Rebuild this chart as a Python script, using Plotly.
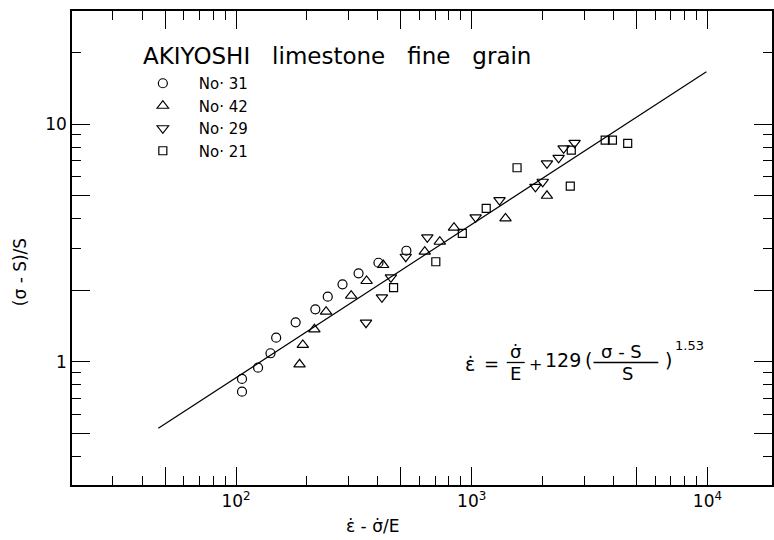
import plotly.graph_objects as go

# Creep data for AKIYOSHI limestone (fine grain), strain rate vs normalised stress
x31 = [106, 106, 124, 140, 148, 179, 217, 245, 283, 331, 402, 528]
y31 = [0.846, 0.748, 0.944, 1.085, 1.262, 1.465, 1.661, 1.877, 2.117, 2.354, 2.609, 2.931]

x42 = [186, 192, 215, 241, 308, 358, 421, 632, 732, 841, 1391, 2085]
y42 = [0.975, 1.176, 1.369, 1.623, 1.895, 2.186, 2.552, 2.903, 3.198, 3.663, 4.011, 4.993]

x29 = [356, 416, 454, 525, 648, 1039, 1312, 1863, 2000, 2085, 2337, 2454, 2732]
y29 = [1.459, 1.866, 2.265, 2.765, 3.337, 4.05, 4.789, 5.447, 5.718, 6.834, 7.215, 7.903, 8.343]

x21 = [466, 704, 912, 1152, 1557, 2619, 2645, 3683, 3954, 4589]
y21 = [2.048, 2.634, 3.469, 4.42, 6.549, 5.485, 7.773, 8.563, 8.563, 8.294]

# fitted relation end points
fit_x = [46.8, 9900]
fit_y = [0.525, 16.6]

series_names = ["No· 31", "No· 42", "No· 29", "No· 21"]

# labelled decades, unlabelled long ticks, short ticks
x_label_vals = [100, 1000, 10000]
x_label_text = ["10<sup>2</sup>", "10<sup>3</sup>", "10<sup>4</sup>"]
x_long = [50, 500, 5000]
x_short = [20, 30, 40, 60, 70, 80, 90, 200, 300, 400, 600, 700, 800, 900,
           2000, 3000, 4000, 6000, 7000, 8000, 9000]
y_label_vals = [1, 10]
y_label_text = ["1", "10"]
y_long = [0.5, 2, 5]
y_short = [0.4, 0.6, 0.7, 0.8, 0.9, 3, 4, 6, 7, 8, 9, 20]

X_RANGE = [1.304, 4.274]
Y_RANGE = [-0.519, 1.476]

FONT = "DejaVu Sans"
INK = "black"

# plot-area geometry (pixels) used to place free text
L, R, T, B = 72, 774, 11, 485


def px(x):
    return (x - L) / (R - L)


def py(y):
    return (B - y) / (B - T)


fig = go.Figure()

fig.add_trace(go.Scatter(x=fit_x, y=fit_y, mode="lines",
                         line=dict(color=INK, width=1.2), showlegend=False,
                         hoverinfo="skip"))

styles = [
    (x31, y31, "circle-open", 9),
    (x42, y42, "triangle-up-open", 10),
    (x29, y29, "triangle-down-open", 10),
    (x21, y21, "square-open", 8),
]
for (xs, ys, sym, size), name in zip(styles, series_names):
    fig.add_trace(go.Scatter(
        x=xs, y=ys, mode="markers", name=name,
        marker=dict(symbol=sym, size=size, color=INK, line=dict(color=INK, width=1.2)),
    ))

# empty traces that bring the extra tick axes into existence
for k in (2, 3):
    fig.add_trace(go.Scatter(x=[], y=[], xaxis=f"x{k}", yaxis=f"y{k}",
                             showlegend=False, hoverinfo="skip"))

annotations = []


def text(x, y, s, size, xanchor="center", yanchor="middle", angle=0):
    annotations.append(dict(
        x=px(x), y=py(y), xref="paper", yref="paper", text=s, showarrow=False,
        xanchor=xanchor, yanchor=yanchor, textangle=angle,
        font=dict(family=FONT, size=size, color=INK),
    ))


gap = "\u00a0\u00a0 "
text(141, 56, f"AKIYOSHI{gap}limestone{gap}fine{gap}grain", 23, xanchor="left")

# axis titles
text(373, 526, "\u03b5\u0307 - \u03c3\u0307/E", 17)
text(20, 272, "(\u03c3 - S)/S", 17, angle=-90)

# relation written as a formula
text(471, 364, "\u03b5\u0307", 19)
text(493, 363, "=", 18)
text(517, 351, "\u03c3\u0307", 18)
text(517, 373, "E", 18)
text(537, 364, "+", 16)
text(564, 360, "129", 19)
text(590, 360, "(", 19)
text(623, 351, "\u03c3 - S", 18)
text(629, 373, "S", 18)
text(670, 360, ")", 19)
text(691, 346, "1.53", 13)

shapes = [
    dict(type="line", xref="paper", yref="paper", x0=px(508), x1=px(526),
         y0=py(362.5), y1=py(362.5), line=dict(color=INK, width=1.3)),
    dict(type="line", xref="paper", yref="paper", x0=px(595), x1=px(660),
         y0=py(362.5), y1=py(362.5), line=dict(color=INK, width=1.3)),
]


def axis(rng, vals, length, text_vals=None, **extra):
    d = dict(
        type="log", range=rng, showgrid=False, zeroline=False, showline=True,
        linecolor=INK, linewidth=1.6, mirror="ticks", ticks="inside",
        ticklen=length, tickwidth=1, tickcolor=INK, tickmode="array",
        tickvals=vals, fixedrange=True,
        tickfont=dict(family=FONT, size=17, color=INK),
    )
    if text_vals is None:
        d["showticklabels"] = False
    else:
        d["ticktext"] = text_vals
    d.update(extra)
    return d


fig.update_layout(
    width=774, height=540,
    margin=dict(l=L, r=774 - R, t=T, b=540 - B),
    paper_bgcolor="white", plot_bgcolor="white",
    font=dict(family=FONT, color=INK),
    xaxis=axis(X_RANGE, x_label_vals, 18, x_label_text),
    yaxis=axis(Y_RANGE, y_label_vals, 18, y_label_text),
    xaxis2=axis(X_RANGE, x_long, 18, overlaying="x", anchor="y2"),
    yaxis2=axis(Y_RANGE, y_long, 18, overlaying="y", anchor="x2"),
    xaxis3=axis(X_RANGE, x_short, 9, overlaying="x", anchor="y3"),
    yaxis3=axis(Y_RANGE, y_short, 9, overlaying="y", anchor="x3"),
    legend=dict(x=px(127), y=py(67), xanchor="left", yanchor="top",
                bgcolor="rgba(0,0,0,0)", itemwidth=62,
                font=dict(family=FONT, size=15, color=INK)),
    annotations=annotations,
    shapes=shapes,
)

fig.write_html("out.html")
